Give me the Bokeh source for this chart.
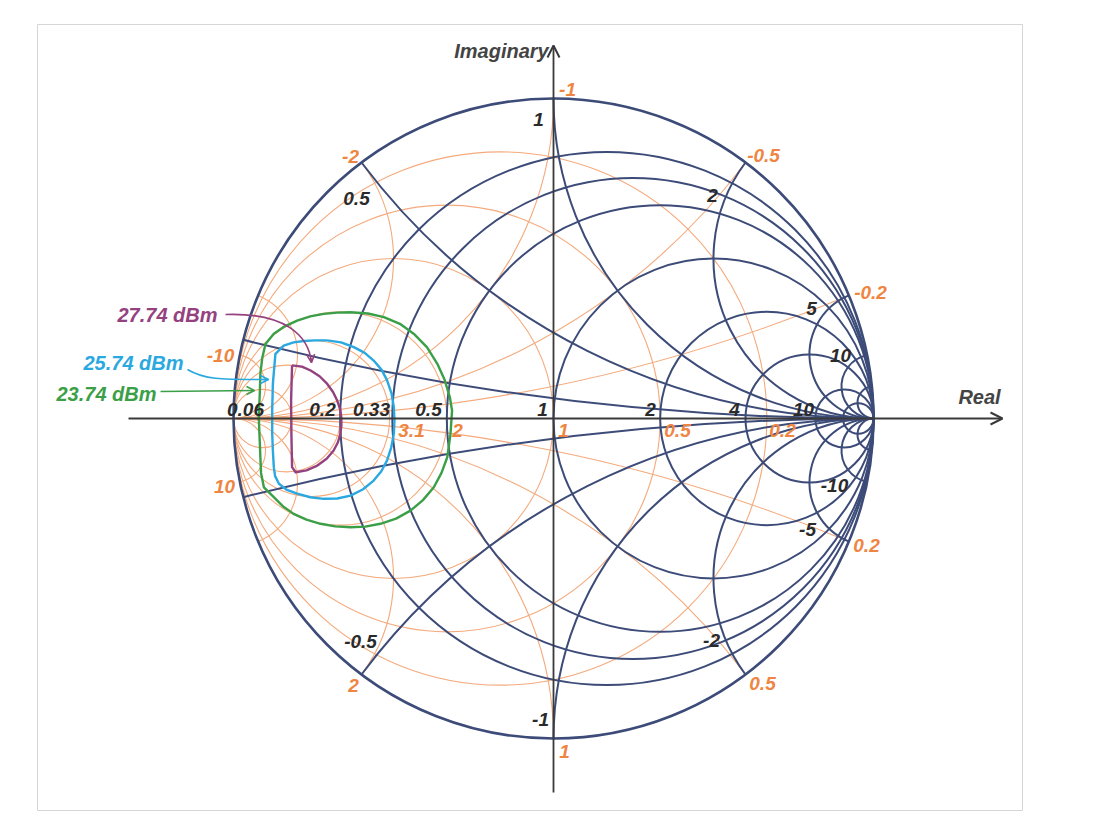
import numpy as np
from bokeh.plotting import figure
from bokeh.models import Arrow, OpenHead, Range1d
from bokeh.core.properties import value
from bokeh.embed import file_html
from bokeh.resources import INLINE

# ---------------- data ----------------
# impedance grid (navy): resistance circles and reactance arcs
R_VALUES = [0, 0.2, 0.33, 0.5, 1, 2, 4, 10, 20]
X_VALUES = [0.125, 0.5, 1, 2, 5, 10, 20]
# admittance grid (orange): conductance circles and susceptance arcs
G_VALUES = [0.2, 0.5, 1, 2, 3.1, 5, 10]
B_VALUES = [0.2, 0.5, 1, 2, 5, 10]

# tick labels
R_AXIS_TICKS = ["0.06", "0.2", "0.33", "0.5", "1", "2", "4", "10"]
X_TICKS = ["1", "0.5", "2", "5", "10", "-10", "-5", "-2", "-0.5", "-1"]
G_AXIS_TICKS = ["3.1", "2", "1", "0.5", "0.2"]
B_TICKS = ["-1", "-2", "-0.5", "-0.2", "-10", "10", "2", "0.5", "0.2", "1"]

# load-pull contours (reflection coefficient)
C23_NAME = "23.74 dBm"
C23_RE = [-0.634, -0.580, -0.530, -0.480, -0.437, -0.395, -0.363, -0.340, -0.324, -0.317,
          -0.322, -0.332, -0.350, -0.374, -0.408, -0.447, -0.492, -0.541, -0.588,
          -0.634, -0.682, -0.728, -0.772, -0.812, -0.846, -0.874, -0.905, -0.914, -0.916,
          -0.921, -0.918, -0.916, -0.910, -0.900, -0.874, -0.840, -0.801, -0.760, -0.718,
          -0.676]
C23_IM = [0.332, 0.328, 0.317, 0.296, 0.265, 0.222, 0.171, 0.120, 0.067, 0.025,
          -0.050, -0.121, -0.170, -0.215, -0.255, -0.288, -0.313, -0.329, -0.338,
          -0.340, -0.337, -0.329, -0.316, -0.298, -0.274, -0.246, -0.215, -0.170, -0.121,
          0.004, 0.075, 0.140, 0.190, 0.233, 0.265, 0.288, 0.306, 0.319, 0.327,
          0.331]
C25_NAME = "25.74 dBm"
C25_RE = [-0.707, -0.664, -0.624, -0.590, -0.562, -0.537, -0.520, -0.506, -0.499, -0.497,
          -0.499, -0.507, -0.520, -0.538, -0.562, -0.595, -0.634, -0.676, -0.718,
          -0.760, -0.801, -0.835, -0.858, -0.870, -0.874, -0.877, -0.879, -0.879, -0.877,
          -0.869, -0.843, -0.812, -0.780, -0.745]
C25_IM = [0.244, 0.238, 0.223, 0.205, 0.181, 0.152, 0.119, 0.078, 0.035, -0.006,
          -0.048, -0.090, -0.131, -0.165, -0.194, -0.221, -0.241, -0.250, -0.251,
          -0.246, -0.235, -0.222, -0.204, -0.180, -0.152, -0.100, -0.048, 0.030, 0.108,
          0.202, 0.228, 0.238, 0.242, 0.244]
C27_NAME = "27.74 dBm"
C27_RE = [-0.817, -0.786, -0.759, -0.731, -0.707, -0.689, -0.676, -0.667, -0.663, -0.663,
          -0.666, -0.674, -0.687, -0.709, -0.738, -0.772, -0.806, -0.817, -0.819, -0.820]
C27_IM = [0.166, 0.162, 0.150, 0.132, 0.108, 0.083, 0.056, 0.030, 0.004, -0.022,
          -0.048, -0.075, -0.100, -0.126, -0.147, -0.162, -0.168, -0.152, -0.050, 0.056]

# ---------------- styles ----------------
NAVY = "#3c4b78"
ORANGE_LINE = "#f4aa7c"
ORANGE_TEXT = "#ef8542"
DARK_TEXT = "#2a2a2a"
AXIS = "#3a3a3a"
GREEN = "#3b9f48"
BLUE = "#2aa8e0"
PURPLE = "#94417f"
FONT = value("Liberation Sans")

CX, CY, SCALE = 553.0, 418.0, 320.0
OFF = 0  # page origin of the figure
W, H = 1096, 830


def gx(px):
    return (px - CX) / SCALE


def gy(py):
    return (CY - py) / SCALE


p = figure(width=W, height=H, x_range=Range1d(gx(OFF), gx(OFF + W)),
           y_range=Range1d(gy(OFF + H), gy(OFF)), output_backend="svg",
           toolbar_location=None, min_border=0)
p.axis.visible = False
p.grid.visible = False
p.outline_line_color = None
p.background_fill_color = "white"

# frame of the picture
p.quad(left=[gx(37)], right=[gx(1022)], top=[gy(24)], bottom=[gy(810)],
       fill_color=None, line_color="#d6d6d6", line_width=1)


def react_params(v):
    cyy = 1.0 / v
    ix = (v * v - 1) / (v * v + 1)
    iy = 2 * v / (v * v + 1)
    th = np.arctan2(iy - cyy, ix - 1) % (2 * np.pi)
    return cyy, 1.0 / v, th


# ---- admittance grid (orange, rotated by 180 deg) ----
p.circle(x=[-g / (g + 1) for g in G_VALUES], y=[0] * len(G_VALUES),
         radius=[1 / (g + 1) for g in G_VALUES], fill_color=None,
         line_color=ORANGE_LINE, line_width=1.1)
bx, by, br, bs, be = [], [], [], [], []
for v in B_VALUES:
    cyy, rad, th = react_params(v)
    bx += [-1, -1]
    by += [-cyy, cyy]
    br += [rad, rad]
    bs += [(th + np.pi) % (2 * np.pi), 1.5 * np.pi]
    be += [0.5 * np.pi, (3 * np.pi - th) % (2 * np.pi)]
p.arc(x=bx, y=by, radius=br, start_angle=bs, end_angle=be, direction="anticlock",
      line_color=ORANGE_LINE, line_width=1.1)

# ---- impedance grid (navy) ----
p.circle(x=[r / (r + 1) for r in R_VALUES], y=[0] * len(R_VALUES),
         radius=[1 / (r + 1) for r in R_VALUES], fill_color=None,
         line_color=NAVY, line_width=[2.6 if r == 0 else 2.0 for r in R_VALUES])
xx, xy, xr, xs, xe = [], [], [], [], []
for v in X_VALUES:
    cyy, rad, th = react_params(v)
    xx += [1, 1]
    xy += [cyy, -cyy]
    xr += [rad, rad]
    xs += [th, 0.5 * np.pi]
    xe += [1.5 * np.pi, 2 * np.pi - th]
p.arc(x=xx, y=xy, radius=xr, start_angle=xs, end_angle=xe, direction="anticlock",
      line_color=NAVY, line_width=2.0)

# ---- axes ----
p.add_layout(Arrow(end=OpenHead(size=12, line_color=AXIS, line_width=2),
                   x_start=gx(128), y_start=0, x_end=gx(1002), y_end=0,
                   line_color=AXIS, line_width=1.8))
p.add_layout(Arrow(end=OpenHead(size=12, line_color=AXIS, line_width=2),
                   x_start=0, y_start=gy(792), x_end=0, y_end=gy(45),
                   line_color=AXIS, line_width=1.8))
p.text(x=[gx(501)], y=[gy(50)], text=["Imaginary"], text_font=FONT, text_font_size="20px",
       text_font_style="bold italic", text_color="#444444", text_align="center",
       text_baseline="middle")
p.text(x=[gx(979)], y=[gy(396)], text=["Real"], text_font=FONT, text_font_size="20px",
       text_font_style="bold italic", text_color="#444444", text_align="center",
       text_baseline="middle")

# ---- contours ----
for re_, im_, col in [(C23_RE, C23_IM, GREEN), (C25_RE, C25_IM, BLUE), (C27_RE, C27_IM, PURPLE)]:
    p.line(x=re_ + re_[:1], y=im_ + im_[:1], line_color=col, line_width=2.4,
           line_join="round")

# ---- tick labels ----
LBL = dict(text_font=FONT, text_font_size="19px", text_font_style="bold italic",
           text_align="center", text_baseline="middle")
r_axis_px = [245, 322, 371, 428, 542, 650, 734, 803]
p.text(x=[gx(v) for v in r_axis_px], y=[gy(409)] * len(r_axis_px), text=R_AXIS_TICKS,
       text_color=DARK_TEXT, **LBL)
x_pos = [(538, 119), (356, 198), (712, 195), (811, 308), (840, 355), (834, 485),
         (807, 529), (711, 640), (360, 641), (540, 719)]
p.text(x=[gx(a) for a, b in x_pos], y=[gy(b) for a, b in x_pos], text=X_TICKS,
       text_color=DARK_TEXT, **LBL)
g_axis_px = [411, 457, 563, 677, 782]
p.text(x=[gx(v) for v in g_axis_px], y=[gy(430)] * len(g_axis_px), text=G_AXIS_TICKS,
       text_color=ORANGE_TEXT, **LBL)
b_pos = [(567, 89), (350, 156), (763, 155), (870, 292), (220, 355), (224, 486),
         (353, 685), (762, 683), (866, 545), (564, 751)]
p.text(x=[gx(a) for a, b in b_pos], y=[gy(b) for a, b in b_pos], text=B_TICKS,
       text_color=ORANGE_TEXT, **LBL)

# ---- contour callouts ----
p.text(x=[gx(167), gx(133), gx(106)], y=[gy(314), gy(362), gy(393)],
       text=[C27_NAME, C25_NAME, C23_NAME], text_font=FONT, text_font_size="20px",
       text_font_style="bold italic", text_color=[PURPLE, BLUE, GREEN],
       text_align="center", text_baseline="middle")
p.bezier(x0=[gx(225)], y0=[gy(314)], x1=[gx(311)], y1=[gy(362)],
         cx0=[gx(285)], cy0=[gy(312)], cx1=[gx(308)], cy1=[gy(335)],
         line_color=PURPLE, line_width=1.6)
p.add_layout(Arrow(end=OpenHead(size=8, line_color=PURPLE, line_width=1.6),
                   x_start=gx(310.6), y_start=gy(358), x_end=gx(311), y_end=gy(362),
                   line_color=PURPLE, line_width=1.6))
p.bezier(x0=[gx(187)], y0=[gy(369)], x1=[gx(268)], y1=[gy(379)],
         cx0=[gx(205)], cy0=[gy(380)], cx1=[gx(225)], cy1=[gy(379)],
         line_color=BLUE, line_width=1.6)
p.add_layout(Arrow(end=OpenHead(size=8, line_color=BLUE, line_width=1.6),
                   x_start=gx(262), y_start=gy(379), x_end=gx(268), y_end=gy(379),
                   line_color=BLUE, line_width=1.6))
p.add_layout(Arrow(end=OpenHead(size=8, line_color=GREEN, line_width=1.6),
                   x_start=gx(160), y_start=gy(391), x_end=gx(254), y_end=gy(390),
                   line_color=GREEN, line_width=1.6))

open("out.html", "w").write(file_html(p, INLINE))
